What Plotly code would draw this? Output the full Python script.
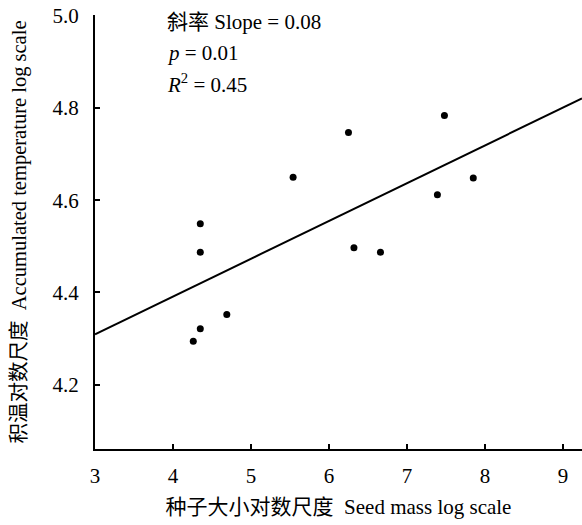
import plotly.graph_objects as go

# Data
seed_mass_log = [4.35, 4.35, 5.54, 6.25, 7.48, 7.85, 7.39, 6.32, 6.66, 4.69, 4.35, 4.26]
accum_temp_log = [4.549, 4.487, 4.650, 4.747, 4.784, 4.648, 4.612, 4.497, 4.487, 4.352, 4.321, 4.294]
fit_slope = 0.082
fit_intercept = 4.063
x_range = [3, 9.244]
y_range = [4.06, 5.002]
x_ticks = [3, 4, 5, 6, 7, 8, 9]
y_ticks = [4.2, 4.4, 4.6, 4.8, 5.0]
y_tick_labels = ["4.2", "4.4", "4.6", "4.8", "5.0"]
stats_lines = ["斜率 Slope = 0.08", "<i>p</i> = 0.01", "<i>R</i><sup>2</sup> = 0.45"]

FONT = "Liberation Serif, Times New Roman, Noto Sans CJK SC, serif"

fig = go.Figure()
line_x = [x_range[0], x_range[1]]
line_y = [fit_intercept + fit_slope * v for v in line_x]
fig.add_trace(go.Scatter(x=line_x, y=line_y, mode="lines",
                         line=dict(color="black", width=2), showlegend=False,
                         hoverinfo="skip"))
fig.add_trace(go.Scatter(x=seed_mass_log, y=accum_temp_log, mode="markers",
                         marker=dict(color="black", size=7), showlegend=False))

ann_y = [22, 53, 83]
annotations = []
for txt, py in zip(stats_lines, ann_y):
    annotations.append(dict(text=txt, xref="paper", yref="paper",
                            x=(165 - 95) / 487, y=1 - (py - 15) / 434,
                            xanchor="left", yanchor="middle", showarrow=False,
                            font=dict(family=FONT, size=21, color="black")))

fig.update_layout(
    width=582, height=525,
    margin=dict(l=95, r=0, t=15, b=76),
    paper_bgcolor="white", plot_bgcolor="white",
    font=dict(family=FONT, size=21, color="black"),
    annotations=annotations,
    xaxis=dict(range=x_range, tickvals=x_ticks, ticks="inside", ticklen=5,
               tickwidth=2, tickcolor="black", showline=True, linewidth=2,
               linecolor="black", showgrid=False, zeroline=False,
               ticklabelstandoff=7, automargin=False,
               tickfont=dict(family=FONT, size=21),
               title=dict(text="种子大小对数尺度  Seed mass log scale",
                          font=dict(family=FONT, size=21), standoff=12)),
    yaxis=dict(range=y_range, tickvals=y_ticks, ticktext=y_tick_labels,
               ticks="inside", ticklen=5, tickwidth=2, tickcolor="black",
               showline=True, linewidth=2, linecolor="black", showgrid=False,
               zeroline=False, ticklabelstandoff=10, automargin=False,
               ticklabeloverflow="allow",
               tickfont=dict(family=FONT, size=21),
               title=dict(text="积温对数尺度  Accumulated temperature log scale",
                          font=dict(family=FONT, size=20.5), standoff=20)),
)

fig.write_html(
    "out.html",
    config={"displayModeBar": False},
    post_script="document.body.style.margin='0';document.body.style.overflow='hidden';",
)
